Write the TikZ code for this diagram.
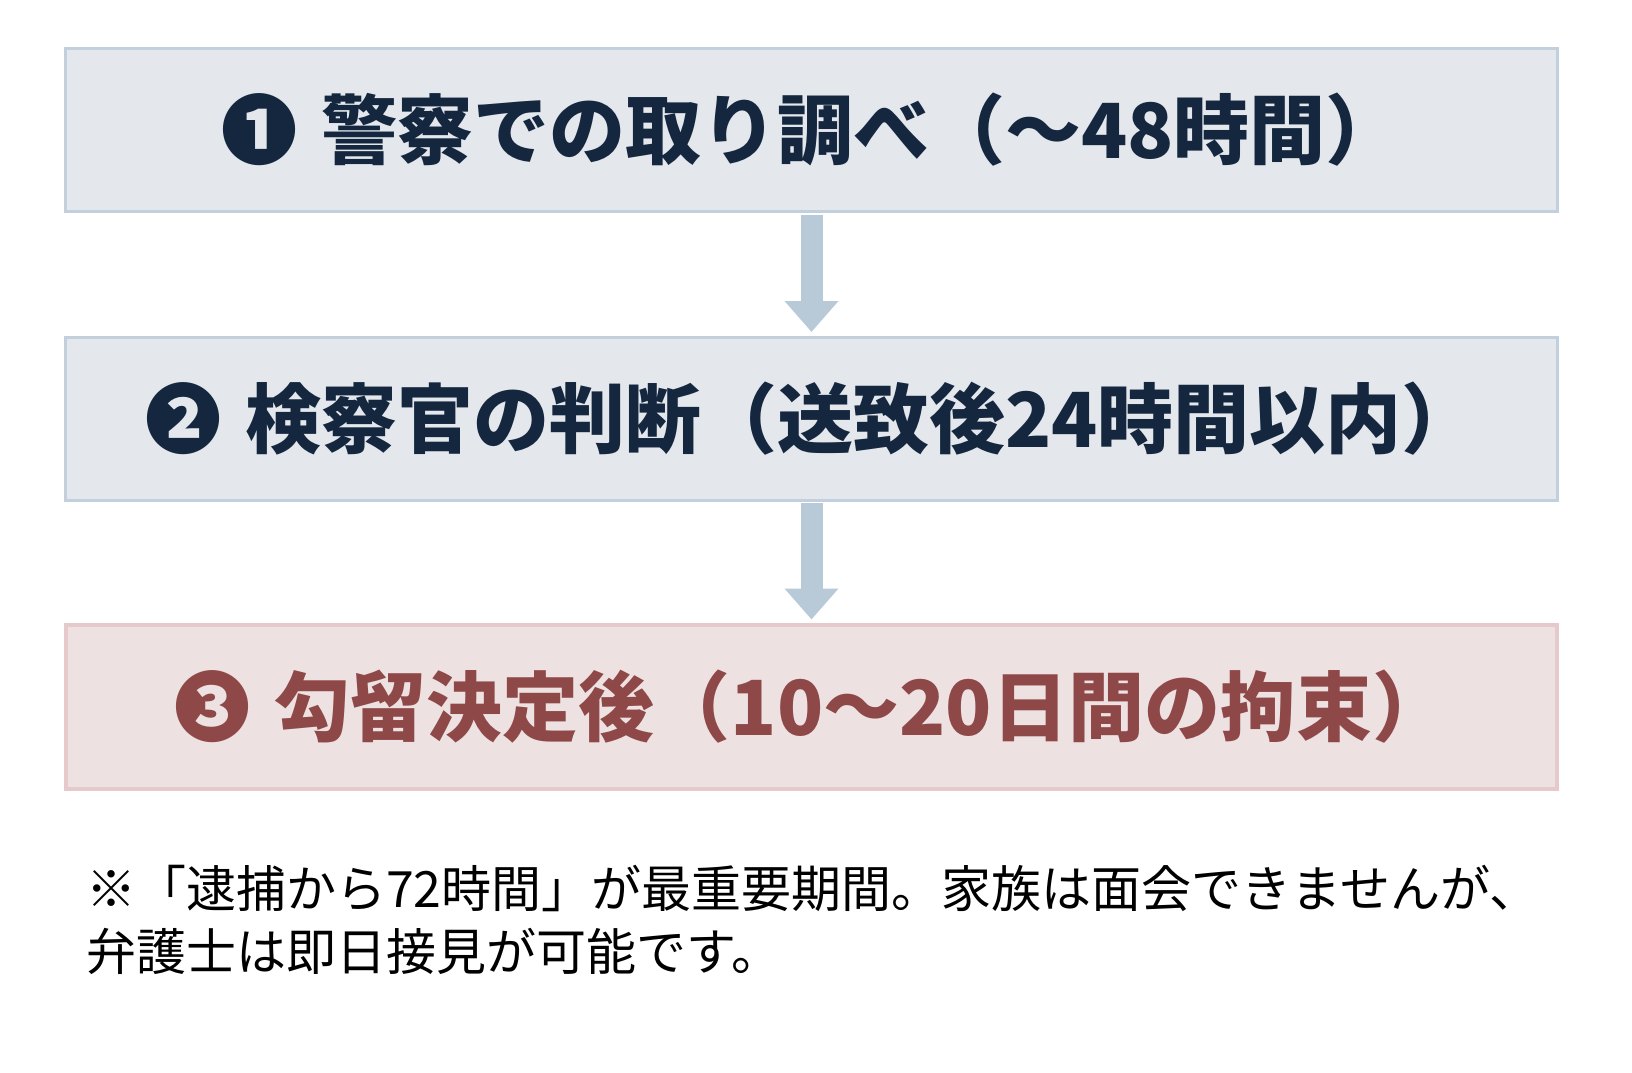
\documentclass[tikz,border=0pt]{standalone}
\usepackage{fontspec}
\setmainfont{Noto Sans CJK JP}
\usetikzlibrary{arrows.meta,positioning}

\definecolor{stagefill}{RGB}{228,232,237}
\definecolor{stageline}{RGB}{194,207,220}
\definecolor{stagetext}{RGB}{20,39,63}
\definecolor{holdfill}{RGB}{238,225,226}
\definecolor{holdline}{RGB}{230,202,203}
\definecolor{holdtext}{RGB}{142,72,72}
\definecolor{flowblue}{RGB}{184,201,216}

\newcommand{\stagefont}{\fontsize{76}{90}\selectfont\bfseries}
\newcommand{\notefont}{\fontsize{50}{63}\selectfont}
\newcommand{\stepno}[1]{#1\hspace{24pt}}

\begin{document}
\begin{tikzpicture}[x=1pt, y=1pt, node distance=288.5pt]
    \tikzstyle{stage} = [rectangle, minimum width=1492pt, minimum height=163pt, draw=stageline, fill=stagefill, line width=3pt, text=stagetext, font=\stagefont, inner sep=0pt]
    \tikzstyle{hold} = [stage, draw=holdline, fill=holdfill, text=holdtext, line width=4pt, minimum width=1491pt, minimum height=164pt]
    \tikzstyle{flow} = [draw=flowblue, line width=22pt, -{Triangle[width=52pt, length=31pt]}, shorten <=1.5pt, shorten >=3.5pt]
    \tikzstyle{note} = [align=left, font=\notefont, text=black, inner sep=0pt]

    \useasboundingbox (0,0) rectangle (1632,-1072);

    % Stages
    \node [stage] (police) at (811.5,-130) {\stepno{❶}警察での取り調べ（〜48時間）};
    \node [stage, below of=police] (prosecutor) {\stepno{❷}検察官の判断（送致後24時間以内）};
    \node [hold, below of=prosecutor] (detention) {\stepno{❸}勾留決定後（10〜20日間の拘束）};

    % Connections
    \draw [flow] (police) -- (prosecutor);
    \draw [flow] (prosecutor) -- (detention);

    % Note (base = last line)
    \node [note, anchor=base west] (remark) at (86,-970) {※「逮捕から72時間」が最重要期間。家族は面会できませんが、\\弁護士は即日接見が可能です。};
\end{tikzpicture}
\end{document}
